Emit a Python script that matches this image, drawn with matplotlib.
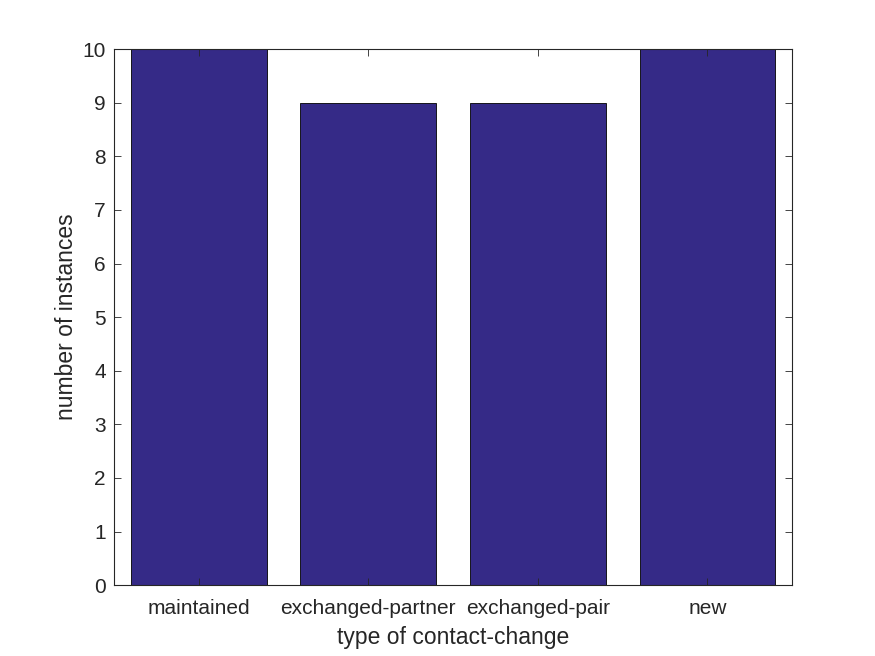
import matplotlib
matplotlib.use("Agg")
import matplotlib.pyplot as plt
import numpy as np

categories = ["maintained", "exchanged-partner", "exchanged-pair", "new"]
counts = [10, 9, 9, 10]

plt.rcParams['font.family'] = ['Liberation Sans', 'DejaVu Sans']

fig = plt.figure(figsize=(8.75, 6.56), dpi=100)
ax = fig.add_axes([0.1303, 0.108, 0.775, 0.817])

x = np.arange(1, len(categories) + 1)
ax.bar(x, counts, width=0.8, color="#352a87", edgecolor="black", linewidth=0.6, zorder=1)

ax.set_xlim(0.5, 4.5)
ax.set_ylim(0, 10)
ax.set_xticks(x)
ax.set_xticklabels(categories)
ax.set_yticks(range(0, 11))

dark = "#262626"
for s in ax.spines.values():
    s.set_color(dark)
    s.set_linewidth(0.8)
    s.set_zorder(3)
ax.tick_params(direction="in", top=True, right=True, length=5, width=0.6,
               colors=dark, labelsize=15, zorder=3)
ax.tick_params(axis="x", pad=10)
ax.tick_params(axis="y", pad=6)
ax.set_axisbelow(False)
ax.set_xlabel("type of contact-change", fontsize=16.5, color=dark, labelpad=6)
ax.set_ylabel("number of instances", fontsize=16.5, color=dark, labelpad=3)

fig.savefig("out.png", dpi=100)
